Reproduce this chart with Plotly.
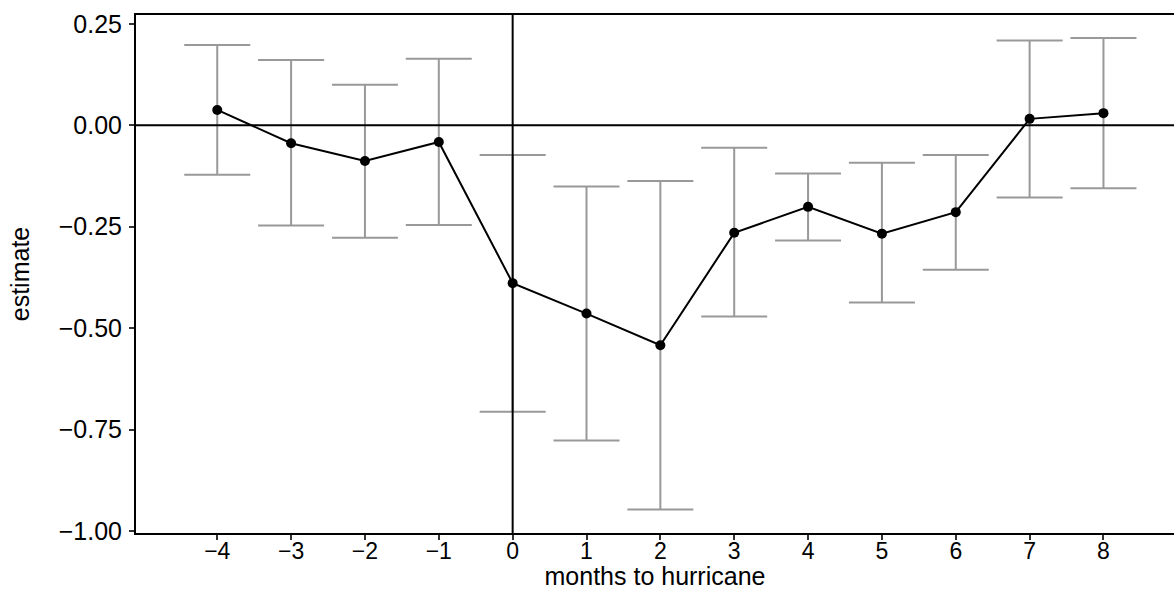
import plotly.graph_objects as go

# Event-study estimates by month relative to the hurricane
months = [-4, -3, -2, -1, 0, 1, 2, 3, 4, 5, 6, 7, 8]
estimate = [0.038, -0.044, -0.088, -0.041, -0.389, -0.464, -0.542,
            -0.265, -0.201, -0.267, -0.214, 0.016, 0.030]
ci_low = [-0.122, -0.247, -0.277, -0.246, -0.706, -0.777, -0.947,
          -0.471, -0.284, -0.437, -0.356, -0.178, -0.155]
ci_high = [0.198, 0.161, 0.100, 0.164, -0.073, -0.151, -0.137,
           -0.055, -0.119, -0.092, -0.073, 0.209, 0.215]

y_ticks = [-1.00, -0.75, -0.50, -0.25, 0.00, 0.25]
x_ticks = months

err_plus = [h - e for h, e in zip(ci_high, estimate)]
err_minus = [e - l for e, l in zip(estimate, ci_low)]

FONT = "Liberation Sans, Arial, Helvetica, sans-serif"

fig = go.Figure()

# confidence intervals
fig.add_trace(go.Scatter(
    x=months, y=estimate, mode="markers",
    marker=dict(size=1, opacity=0),
    error_y=dict(type="data", symmetric=False, array=err_plus,
                 arrayminus=err_minus, color="#999999",
                 thickness=2, width=33),
    showlegend=False, hoverinfo="skip",
))

# point estimates joined by a line
fig.add_trace(go.Scatter(
    x=months, y=estimate, mode="lines+markers",
    line=dict(color="black", width=2),
    marker=dict(color="black", size=10),
    showlegend=False,
))

# reference lines at zero
fig.add_shape(type="line", xref="paper", yref="y", x0=0, x1=1, y0=0, y1=0,
              line=dict(color="black", width=2), layer="above")
fig.add_shape(type="line", xref="x", yref="paper", x0=0, x1=0, y0=0, y1=1,
              line=dict(color="black", width=2), layer="above")

fig.update_layout(
    width=1174, height=590,
    margin=dict(l=136, r=0, t=15, b=57),
    paper_bgcolor="white", plot_bgcolor="white",
    font=dict(family=FONT, size=25, color="black"),
    xaxis=dict(
        range=[-5.10, 8.955],
        tickvals=x_ticks,
        showgrid=False, zeroline=False,
        showline=True, linecolor="black", linewidth=2, mirror=True,
        ticks="outside", ticklen=5, tickwidth=2, tickcolor="#333333",
        tickfont=dict(size=23, color="black"),
        ticklabelstandoff=-9,
        title=dict(text="months to hurricane", font=dict(size=25),
                   standoff=5),
    ),
    yaxis=dict(
        range=[-1.005, 0.272],
        tickvals=y_ticks, tickformat=".2f",
        showgrid=False, zeroline=False,
        showline=True, linecolor="black", linewidth=2,
        ticks="outside", ticklen=5, tickwidth=2, tickcolor="#333333",
        tickfont=dict(size=25, color="black"),
        ticklabelstandoff=2,
        title=dict(text="estimate", font=dict(size=25), standoff=22),
    ),
)

fig.write_html("out.html")
